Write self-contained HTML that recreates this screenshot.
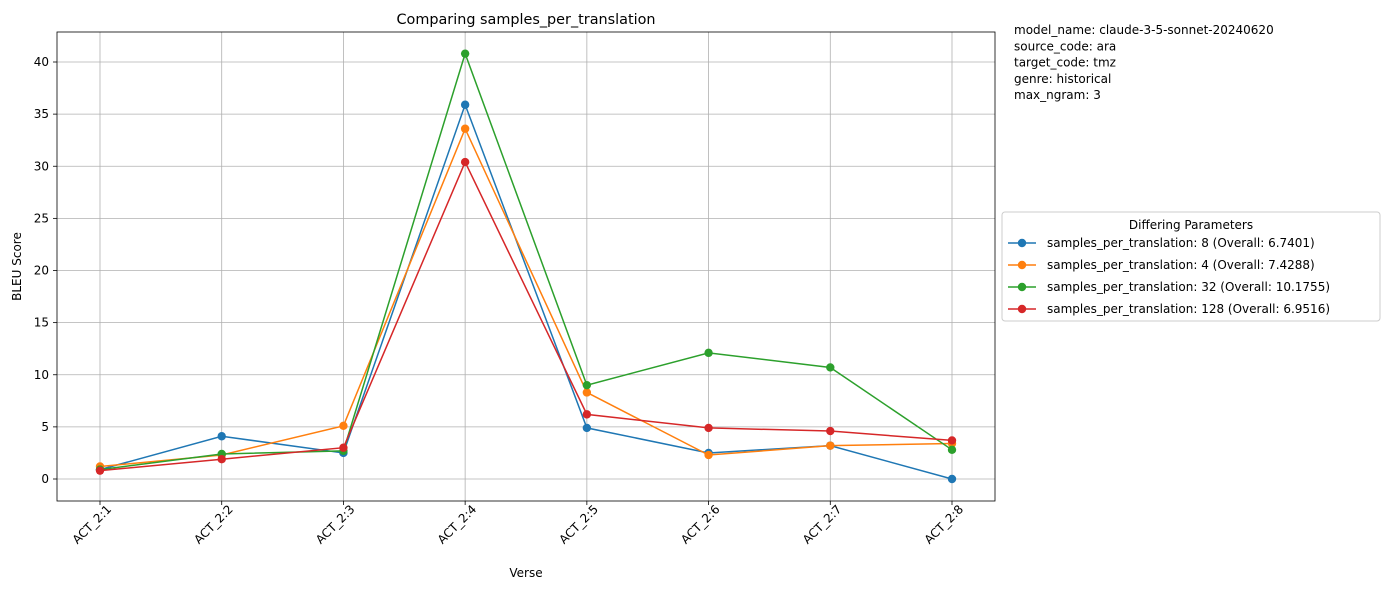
<!DOCTYPE html>
<html><head><meta charset="utf-8"><style>
body{margin:0;background:#fff;font-family:"Liberation Sans","DejaVu Sans",sans-serif;}
svg text{font-family:"DejaVu Sans","Liberation Sans",sans-serif;}
</style></head><body>
<svg id="chart" width="1389" height="590" xmlns="http://www.w3.org/2000/svg"></svg>
<script>
const categories=["ACT_2:1","ACT_2:2","ACT_2:3","ACT_2:4","ACT_2:5","ACT_2:6","ACT_2:7","ACT_2:8"];
const seriesNames=["samples_per_translation: 8 (Overall: 6.7401)","samples_per_translation: 4 (Overall: 7.4288)","samples_per_translation: 32 (Overall: 10.1755)","samples_per_translation: 128 (Overall: 6.9516)"];
const blueValues=[0.9,4.1,2.5,35.9,4.9,2.5,3.2,0.0];
const orangeValues=[1.2,2.3,5.1,33.6,8.3,2.3,3.2,3.4];
const greenValues=[0.9,2.4,2.7,40.8,9.0,12.1,10.7,2.8];
const redValues=[0.8,1.9,3.0,30.4,6.2,4.9,4.6,3.7];
const yTicks=[0,5,10,15,20,25,30,35,40];
const colors=["#1f77b4","#ff7f0e","#2ca02c","#d62728"];
const allSeries=[blueValues,orangeValues,greenValues,redValues];

const svg=document.getElementById('chart');
const NS="http://www.w3.org/2000/svg";
function mk(tag,attrs,parent){const e=document.createElementNS(NS,tag);for(const k in attrs)e.setAttribute(k,attrs[k]);(parent||svg).appendChild(e);return e;}
const L=57,R=995,T=32,B=501;
const x0=100,x1=952;
function xs(i){return x0+(x1-x0)*i/(categories.length-1);}
function ys(v){return 479-(479-62)*v/40;}

categories.forEach((c,i)=>{const g=mk('line',{x1:xs(i),x2:xs(i),y1:T,y2:B,stroke:'#b0b0b0','stroke-width':0.8});

});
yTicks.forEach(v=>{const g=mk('line',{x1:L,x2:R,y1:ys(v),y2:ys(v),stroke:'#b0b0b0','stroke-width':0.8});

});
const frame=mk('rect',{x:L,y:T,width:R-L,height:B-T,fill:'none',stroke:'#000','stroke-width':0.8});



yTicks.forEach(v=>{mk('line',{x1:L-4,x2:L,y1:ys(v),y2:ys(v),stroke:'#000','stroke-width':0.8});
const t=mk('text',{x:L-8,y:ys(v)+4,'text-anchor':'end','font-size':12});t.textContent=v;

});
categories.forEach((c,i)=>{mk('line',{x1:xs(i),x2:xs(i),y1:B,y2:B+4,stroke:'#000','stroke-width':0.8});
const ax=xs(i)+12, ay=B+9;
const t=mk('text',{x:ax,y:ay,'text-anchor':'end','font-size':12,transform:`rotate(-45 ${ax} ${ay})`});t.textContent=c;

});

allSeries.forEach((vals,s)=>{
 const g=mk('g',{});
 
 
 const p=mk('polyline',{points:vals.map((v,i)=>xs(i)+','+ys(v)).join(' '),fill:'none',stroke:colors[s],'stroke-width':1.5},g);
 
 
 vals.forEach((v,i)=>{const c=mk('circle',{cx:xs(i),cy:ys(v),r:4.2,fill:colors[s]},g);
 
 });
});

let t=mk('text',{x:(L+R)/2,y:24,'text-anchor':'middle','font-size':14.4});t.textContent="Comparing samples_per_translation";


t=mk('text',{x:(L+R)/2,y:577,'text-anchor':'middle','font-size':12});t.textContent="Verse";


t=mk('text',{x:21,y:(T+B)/2,'text-anchor':'middle','font-size':12,transform:`rotate(-90 21 ${(T+B)/2})`});t.textContent="BLEU Score";



const info=["model_name: claude-3-5-sonnet-20240620","source_code: ara","target_code: tmz","genre: historical","max_ngram: 3"];
info.forEach((s,i)=>{const e=mk('text',{x:1014,y:34+i*16.3,'font-size':12});e.textContent=s;

});

const lg=mk('rect',{x:1002,y:212,width:378,height:109,rx:3,fill:'#fff',stroke:'#ccc','stroke-width':1});


t=mk('text',{x:1191,y:229,'text-anchor':'middle','font-size':12});t.textContent="Differing Parameters";


seriesNames.forEach((n,s)=>{const y=243+s*22;
 mk('line',{x1:1008,x2:1036,y1:y,y2:y,stroke:colors[s],'stroke-width':1.5});
 mk('circle',{cx:1022,cy:y,r:4.2,fill:colors[s]});
 const e=mk('text',{x:1047,y:y+4,'font-size':12});e.textContent=n;
 
 });
</script>
</body></html>
